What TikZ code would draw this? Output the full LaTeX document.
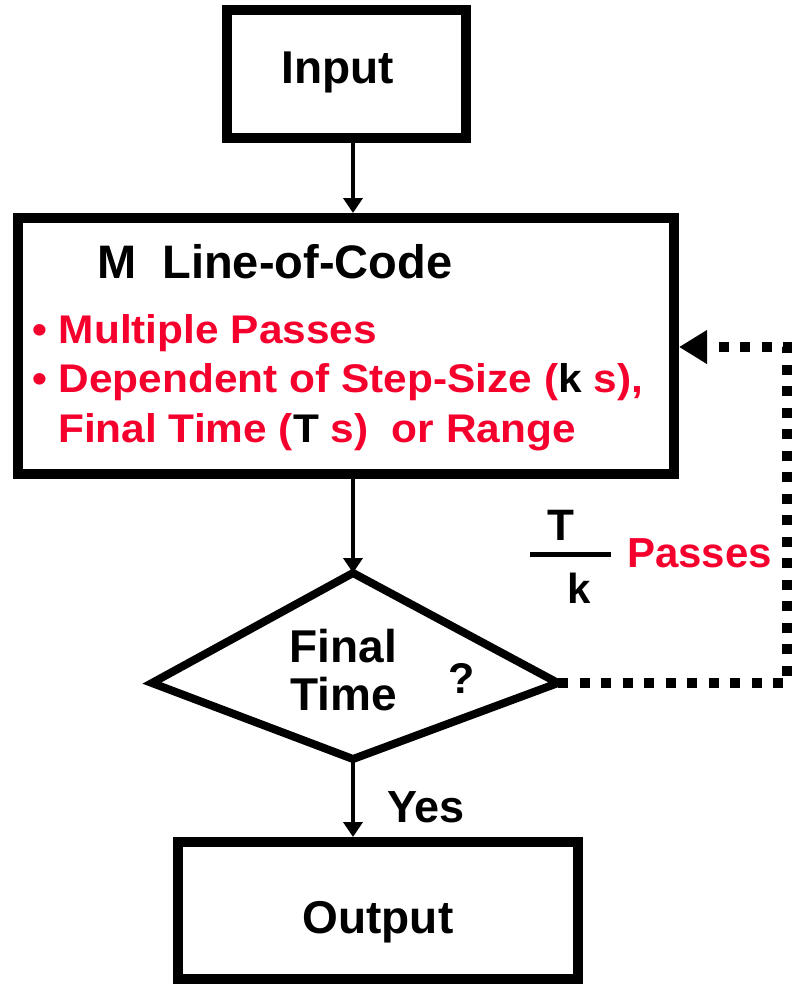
\documentclass[tikz,border=0pt]{standalone}
\usepackage{fontspec}
\setmainfont{Liberation Sans}
\usepackage{xcolor}
\usepackage{tikz}
\usetikzlibrary{arrows.meta}
\definecolor{passred}{RGB}{245,0,45}
\newcommand{\setsz}[1]{\fontsize{#1}{#1}\selectfont\bfseries}
\newcommand{\wide}[1]{\scalebox{1.06}[1]{#1}}

\begin{document}
\begin{tikzpicture}[x=1pt, y=-1pt,
  box/.style={draw, line width=10pt, inner sep=0pt, font=\setsz{46}},
  txt/.style={anchor=base west, inner sep=0pt, font=\setsz{46}},
  redtxt/.style={txt, text=passred, font=\setsz{40}},
  flow/.style={line width=4.5pt, -{Triangle[width=19pt,length=15pt]}},
  loopback/.style={line width=10pt, dash pattern=on 10pt off 11.5pt, -{Triangle[width=32pt,length=28pt]}}]
\useasboundingbox (0,0) rectangle (793,985);
\coordinate (col) at (353,0);

% Input
\node[box, minimum width=239pt, minimum height=128pt, text height=33pt, text depth=14pt] (input) at (346,73.5) {Input\rule{16pt}{0pt}};

% M lines of code
\node[box, minimum width=656pt, minimum height=255.5pt] (mcode) at (346,345.75) {};
\node[txt, font=\setsz{47}] (mtitle) at (97,278) {M\ \ Line-of-Code};
\node[redtxt] (pass1) at (32,343) {\wide{• Multiple Passes}};
\node[redtxt] (pass2) at (32,392) {\wide{• Dependent of Step-Size (\textcolor{black}{k} s),}};
\node[redtxt] (pass3) at (58,442) {\wide{Final Time (\textcolor{black}{T} s)\ \ or Range}};

% Final time test
\coordinate (dtop) at (353,573);
\coordinate (dright) at (558,683);
\coordinate (dbot) at (353,759);
\coordinate (dleft) at (152,683);
\draw[line width=8pt] (dtop) -- (dright) -- (dbot) -- (dleft) -- cycle;
\node[txt, anchor=base] (dfinal) at (343.5,662) {Final};
\node[txt, anchor=base] (dtime) at (343.5,710) {Time};
\node[txt, anchor=base, font=\setsz{43}] (dask) at (461.5,693) {?};

% Output
\node[box, minimum width=400pt, minimum height=137pt, text height=45pt, text depth=0pt] (output) at (378,910.5) {Output};

\draw[flow] (input.south -| col) -- (mcode.north -| col);
\draw[flow] (mcode.south -| col) -- (dtop);
\draw[flow] (dbot) -- (output.north -| col);
\node[txt, font=\setsz{45}] (yes) at (387,822) {Yes};

% T/k passes back
\coordinate (loopb) at (787,683);
\coordinate (loopt) at (787,347);
\draw[loopback] (dright) -- (loopb) -- (loopt) -- (mcode.east |- loopt);
\node[txt, anchor=base, font=\setsz{44}] (tnum) at (561,540) {T};
\draw[line width=5pt] (530,554.5) -- (611,554.5);
\node[txt, anchor=base, font=\setsz{42}] (kden) at (579.5,603) {k};
\node[redtxt, font=\setsz{42}] (passes) at (627,567) {Passes};
\end{tikzpicture}
\end{document}
